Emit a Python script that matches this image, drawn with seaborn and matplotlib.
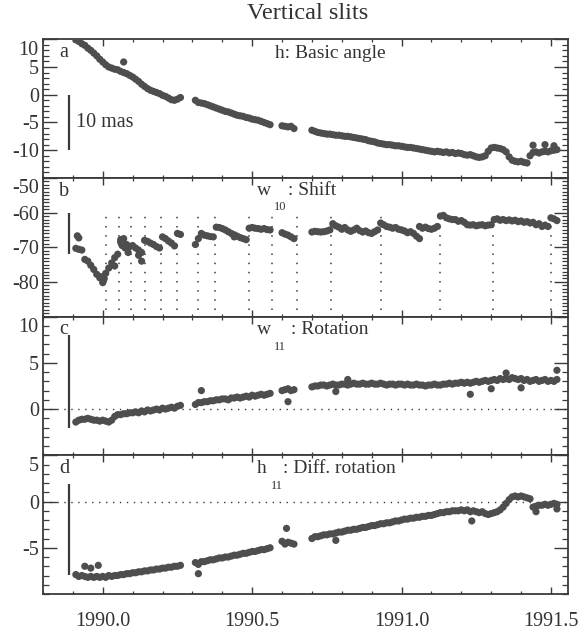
import matplotlib
matplotlib.use("Agg")
import matplotlib.pyplot as plt
import matplotlib.transforms as mtransforms
import pandas as pd
import seaborn as sns
from matplotlib.ticker import MultipleLocator, FixedLocator

# ---------------- data ----------------
epoch = [
    1989.91, 1989.92, 1989.93, 1989.94, 1989.95, 1989.96, 1989.97, 1989.98, 1989.99,
    1990.00, 1990.01, 1990.02, 1990.03, 1990.04, 1990.05, 1990.06, 1990.07, 1990.08, 1990.09,
    1990.10, 1990.11, 1990.12, 1990.13, 1990.14, 1990.15, 1990.16, 1990.17, 1990.18, 1990.19,
    1990.20, 1990.21, 1990.22, 1990.23, 1990.24, 1990.25, 1990.26,
    1990.31, 1990.32, 1990.33, 1990.34, 1990.35, 1990.36, 1990.37, 1990.38, 1990.39,
    1990.40, 1990.41, 1990.42, 1990.43, 1990.44, 1990.45, 1990.46, 1990.47, 1990.48, 1990.49,
    1990.50, 1990.51, 1990.52, 1990.53, 1990.54, 1990.55, 1990.56,
    1990.60, 1990.61, 1990.62, 1990.63, 1990.64,
    1990.70, 1990.71, 1990.72, 1990.73, 1990.74, 1990.75, 1990.76, 1990.77, 1990.78, 1990.79,
    1990.80, 1990.81, 1990.82, 1990.83, 1990.84, 1990.85, 1990.86, 1990.87, 1990.88, 1990.89,
    1990.90, 1990.91, 1990.92, 1990.93, 1990.94, 1990.95, 1990.96, 1990.97, 1990.98, 1990.99,
    1991.00, 1991.01, 1991.02, 1991.03, 1991.04, 1991.05, 1991.06, 1991.07, 1991.08, 1991.09,
    1991.10, 1991.11, 1991.12, 1991.13, 1991.14, 1991.15, 1991.16, 1991.17, 1991.18, 1991.19,
    1991.20, 1991.21, 1991.22, 1991.23, 1991.24, 1991.25, 1991.26, 1991.27, 1991.28, 1991.29,
    1991.30, 1991.31, 1991.32, 1991.33, 1991.34, 1991.35, 1991.36, 1991.37, 1991.38, 1991.39,
    1991.40, 1991.41, 1991.42, 1991.43, 1991.44, 1991.45, 1991.46, 1991.47, 1991.48, 1991.49,
    1991.50, 1991.51, 1991.52,
]

basic_angle = [
    9.9, 9.6, 9.2, 8.9, 8.4, 8.0, 7.5, 7.0, 6.4, 5.9, 5.4, 5.0, 4.8, 4.6, 4.5, 4.2, 4.0, 3.8,
    3.5, 3.2, 2.8, 2.4, 1.9, 1.5, 1.1, 0.8, 0.6, 0.4, 0.2, -0.1, -0.3, -0.6, -0.9, -1.0, -0.8, -0.5,
    -1.0, -1.4, -1.5, -1.6, -1.8, -2.0, -2.2, -2.4, -2.6, -2.8, -3.0, -3.1, -3.3, -3.5, -3.7,
    -3.8, -3.9, -4.1, -4.2, -4.4, -4.5, -4.6, -4.8, -5.0, -5.2, -5.4,
    -5.6, -5.7, -5.8, -5.7, -6.1,
    -6.4, -6.6, -6.8, -6.9, -7.0, -7.1, -7.1, -7.2, -7.3, -7.3, -7.4, -7.5, -7.5, -7.6, -7.7,
    -7.8, -7.9, -8.0, -8.1, -8.3, -8.4, -8.5, -8.7, -8.8, -8.9, -9.0, -9.0, -9.1, -9.2, -9.2,
    -9.3, -9.4, -9.5, -9.5, -9.6, -9.7, -9.8, -9.9, -10.0, -10.1, -10.2, -10.3, -10.2, -10.3,
    -10.4, -10.3, -10.5, -10.4, -10.6, -10.5,
    -10.6, -10.8, -10.9, -10.8, -11.0, -11.2, -11.3, -11.2, -11.0, -10.2, -9.6, -9.5, -9.6,
    -9.7, -9.9, -10.3, -11.2, -11.8, -12.0, -12.1, -12.0, -12.2, -12.3, -11.0, -10.4, -10.3,
    -10.5, -10.3, -10.2, -10.3, -10.1, -10.0, -9.9,
]

shift = [
    -70.3, -70.6, -70.8, -73.5, -74.0, -75.2, -76.4, -77.8, -78.8, -79.5, -77.5, -76.0, -74.5,
    -73.0, -72.0, -68.5, -68.8, -69.2, -69.8, -69.5, -70.2, -70.8, -71.5, -68.0, -68.3, -68.8,
    -69.2, -69.8, -70.2, -67.0, -67.5, -68.2, -68.8, -69.6, -66.0, -66.3,
    -69.2, -67.5, -66.0, -66.5, -66.7, -66.9, -67.0, -64.2, -64.3, -64.6, -65.0, -65.5, -66.0,
    -66.4, -66.8, -67.2, -67.5, -67.8, -64.5, -64.3, -64.5, -64.6, -64.8, -64.6, -64.9, -65.0,
    -65.8, -66.2, -66.5, -67.0, -67.5,
    -65.6, -65.4, -65.5, -65.6, -65.5, -65.3, -65.0, -63.2, -63.8, -64.2, -64.8, -64.3, -65.0,
    -65.4, -65.0, -64.5, -65.2, -65.6, -65.3, -65.8, -66.0, -65.5, -65.0, -63.0, -63.5, -64.0,
    -64.2, -64.5, -64.3, -64.8,
    -65.0, -65.3, -65.8, -65.5, -66.0, -66.8, -64.0, -64.5, -64.2, -64.6, -64.8, -64.5, -64.0,
    -61.0, -60.8, -61.5, -61.8, -62.0, -62.0, -62.5,
    -62.3, -62.8, -63.5, -63.6, -63.5, -63.8, -63.6, -63.5, -63.8, -63.6, -63.5, -62.0, -61.8,
    -62.2, -62.0, -62.3, -62.1, -62.4, -62.2, -62.6, -62.4, -62.8, -62.6, -63.0, -62.8, -63.5,
    -63.2, -64.0, -63.6, -64.0, -61.5, -61.8, -62.3,
]

rotation = [
    -1.4, -1.2, -1.1, -1.1, -1.0, -1.1, -1.2, -1.2, -1.3, -1.2, -1.3, -1.4, -1.2, -0.8, -0.6,
    -0.6, -0.5, -0.5, -0.4, -0.4, -0.3, -0.4, -0.2, -0.3, -0.1, -0.2, -0.1, 0.0, -0.1, 0.1,
    0.0, 0.1, 0.2, 0.1, 0.3, 0.4,
    0.5, 0.7, 0.7, 0.8, 0.8, 0.9, 0.9, 1.0, 1.0, 1.1, 1.1, 1.0, 1.2, 1.2, 1.3, 1.2, 1.3, 1.4,
    1.3, 1.5, 1.4, 1.5, 1.6, 1.5, 1.6, 1.7,
    2.0, 2.1, 2.2, 2.0, 2.1,
    2.4, 2.5, 2.5, 2.6, 2.6, 2.5, 2.6, 2.7, 2.6, 2.6, 2.7, 2.7, 2.6, 2.7, 2.8, 2.7, 2.7, 2.8,
    2.7, 2.7, 2.8, 2.7, 2.7, 2.8, 2.7, 2.6, 2.7, 2.7, 2.6, 2.7,
    2.7, 2.6, 2.7, 2.6, 2.6, 2.7, 2.6, 2.6, 2.5, 2.6, 2.6, 2.7, 2.6, 2.6, 2.7, 2.7, 2.8, 2.7,
    2.8, 2.8,
    2.9, 2.8, 2.9, 2.8, 2.9, 3.0, 2.9, 3.0, 3.1, 3.0, 3.1, 3.2, 3.1, 3.3, 3.2, 3.3, 3.2, 3.4,
    3.3, 3.2, 3.3, 3.1, 3.2, 3.0, 3.1, 3.2, 3.0, 3.1, 3.2, 3.0, 3.1, 3.0, 3.2,
]

diff_rotation = [
    -7.9, -8.1, -8.0, -8.1, -8.2, -8.1, -8.2, -8.1, -8.2, -8.1, -8.2, -8.0, -8.1, -8.0, -8.0,
    -7.9, -7.9, -7.8, -7.8, -7.7, -7.7, -7.6, -7.6, -7.5, -7.5, -7.4, -7.4, -7.3, -7.3, -7.2,
    -7.2, -7.1, -7.1, -7.0, -7.0, -6.9,
    -6.6, -6.8, -6.5, -6.5, -6.4, -6.3, -6.3, -6.2, -6.1, -6.1, -6.0, -6.0, -5.9, -5.8, -5.8,
    -5.7, -5.6, -5.6, -5.5, -5.4, -5.4, -5.3, -5.2, -5.2, -5.1, -5.0,
    -4.3, -4.6, -4.4, -4.5, -4.6,
    -4.0, -3.8, -3.8, -3.7, -3.6, -3.6, -3.5, -3.5, -3.4, -3.3, -3.3, -3.2, -3.1, -3.1, -3.0,
    -3.0, -2.9, -2.8, -2.8, -2.7, -2.6, -2.6, -2.5, -2.4, -2.4, -2.3, -2.3, -2.2, -2.1, -2.1,
    -2.0, -1.9, -1.9, -1.8, -1.8, -1.7, -1.7, -1.6, -1.6, -1.5, -1.5, -1.4, -1.3, -1.2, -1.2,
    -1.1, -1.1, -1.0, -1.0, -1.0,
    -0.9, -1.0, -0.9, -1.1, -1.0, -1.1, -1.2, -1.1, -1.3, -1.4, -1.3, -1.2, -1.1, -0.9, -0.6,
    -0.2, 0.2, 0.5, 0.6, 0.5, 0.6, 0.5, 0.4, 0.3, -0.6, -0.5, -0.4, -0.4, -0.3, -0.4, -0.3,
    -0.2, -0.3,
]

# isolated points
a_extra_epoch = [1990.07, 1991.44, 1991.48, 1991.51]
a_extra_value = [5.9, -9.1, -9.0, -9.2]
b_extra_epoch = [1989.915, 1989.92, 1989.995, 1990.00, 1990.005, 1990.04, 1990.06, 1990.07,
                 1990.065, 1990.075, 1990.085, 1990.12, 1990.13, 1991.06, 1990.44]
b_extra_value = [-66.7, -67.3, -78.5, -80.2, -79.0, -75.4, -67.8, -67.5,
                 -69.5, -70.2, -71.5, -72.3, -74.0, -67.5, -67.0]
c_extra_epoch = [1990.33, 1990.62, 1990.78, 1990.82, 1991.23, 1991.30, 1991.35, 1991.40, 1991.52]
c_extra_value = [2.0, 0.8, 1.9, 3.2, 1.6, 2.2, 3.9, 2.3, 4.2]
d_extra_epoch = [1989.94, 1989.96, 1989.985, 1990.32, 1990.615, 1990.78, 1991.235, 1991.45, 1991.52]
d_extra_value = [-7.0, -7.2, -6.9, -7.8, -2.9, -4.2, -2.1, -1.1, -0.8]

# calibration breaks drawn as dotted verticals in panel b
shift_breaks = [1990.01, 1990.055, 1990.093, 1990.14, 1990.195, 1990.25, 1990.32, 1990.375,
                1990.49, 1990.565, 1990.65, 1990.765, 1990.93, 1991.13, 1991.305, 1991.50]

year_ticks = [1990.0, 1990.5, 1991.0, 1991.5]
year_labels = ["1990.0", "1990.5", "1991.0", "1991.5"]

# ---------------- style ----------------
sns.set_theme(style="ticks")
plt.rcParams["font.family"] = ["Liberation Serif", "DejaVu Serif"]
plt.rcParams["axes.unicode_minus"] = False

INK = "#3a3a3a"
TXT = "#333333"
DOT = "#4e4e4e"

fig = plt.figure(figsize=(5.8, 6.33), dpi=100)
left, width, h = 0.0741, 0.9052, 0.2191
bottoms = [0.7189, 0.4998, 0.2807, 0.0616]
axes = [fig.add_axes([left, b, width, h]) for b in bottoms]

panels = [
    dict(vals=basic_angle, ex=(a_extra_epoch, a_extra_value), ylim=(-15, 10),
         yt=[10, 5, 0, -5, -10], letter="a", bar=(0, -10), zero=False),
    dict(vals=shift, ex=(b_extra_epoch, b_extra_value), ylim=(-90, -50),
         yt=[-50, -60, -70, -80], letter="b", bar=(-60, -72), zero=False),
    dict(vals=rotation, ex=(c_extra_epoch, c_extra_value), ylim=(-5, 10),
         yt=[10, 5, 0], letter="c", bar=(8, -2), zero=True),
    dict(vals=diff_rotation, ex=(d_extra_epoch, d_extra_value), ylim=(-10, 5),
         yt=[5, 0, -5], letter="d", bar=(1.9, -7.9), zero=True),
]

down = mtransforms.ScaledTranslation(0, -6 / 72, fig.dpi_scale_trans)

for i, (ax, p) in enumerate(zip(axes, panels)):
    df = pd.DataFrame({"epoch": epoch + p["ex"][0], "value": p["vals"] + p["ex"][1]})
    sns.scatterplot(data=df, x="epoch", y="value", ax=ax, s=27, color=DOT,
                    edgecolor="none", linewidth=0, legend=False, zorder=3)
    ax.set_xlim(1989.80, 1991.557)
    ax.set_ylim(*p["ylim"])
    ax.set_xlabel("")
    ax.set_ylabel("")
    ax.yaxis.set_major_locator(FixedLocator(p["yt"]))
    ax.yaxis.set_minor_locator(MultipleLocator(1))
    ax.set_yticklabels([str(v) for v in p["yt"]])
    ax.xaxis.set_major_locator(FixedLocator(year_ticks))
    ax.xaxis.set_minor_locator(MultipleLocator(0.1))
    ax.tick_params(which="both", direction="in", top=True, right=True,
                   color=INK, labelcolor=TXT, labelsize=14.5)
    ax.tick_params(axis="y", which="major", length=10, width=1.0, pad=3)
    ax.tick_params(axis="y", which="minor", length=4.5, width=0.9)
    ax.tick_params(axis="x", which="major", length=5, width=1.0, pad=13)
    ax.tick_params(axis="x", which="minor", length=2.5, width=0.9)
    if i < 3:
        ax.tick_params(axis="x", labelbottom=False)
    else:
        ax.set_xticklabels(year_labels)
    for sp in ax.spines.values():
        sp.set_color(INK)
        sp.set_linewidth(1.3)
    # top tick label sits a little below the frame, as in the reference
    top_lab = ax.get_yticklabels()[0]
    top_lab.set_transform(top_lab.get_transform() + down)
    # 10 mas scale bar
    ax.vlines(1989.887, p["bar"][1], p["bar"][0], color=INK, lw=1.6, zorder=4)
    if p["zero"]:
        ax.axhline(0, color=INK, lw=1.0, linestyle=(0, (1, 4)), zorder=2)
    ax.text(0.040, 0.905, p["letter"], transform=ax.transAxes, ha="center",
            va="center", fontsize=14.5, color=TXT)

# panel a
axes[0].text(0.442, 0.90, "h: Basic angle", transform=axes[0].transAxes,
             ha="left", va="center", fontsize=14, color=TXT)
axes[0].text(0.063, 0.403, "10 mas", transform=axes[0].transAxes,
             ha="left", va="center", fontsize=14.5, color=TXT)
# panel b
axes[1].vlines(shift_breaks, -88, -60, color=INK, lw=1.1, linestyles=(0, (1, 5)), zorder=2)
axes[1].text(0.407, 0.91, "w", transform=axes[1].transAxes, ha="left", va="center",
             fontsize=14, color=TXT)
axes[1].text(0.452, 0.79, "10", transform=axes[1].transAxes, ha="center", va="center",
             fontsize=9, color=TXT)
axes[1].text(0.466, 0.91, ": Shift", transform=axes[1].transAxes, ha="left", va="center",
             fontsize=14, color=TXT)
# panel c
axes[2].text(0.407, 0.905, "w", transform=axes[2].transAxes, ha="left", va="center",
             fontsize=14, color=TXT)
axes[2].text(0.452, 0.78, "11", transform=axes[2].transAxes, ha="center", va="center",
             fontsize=9, color=TXT)
axes[2].text(0.473, 0.905, ": Rotation", transform=axes[2].transAxes, ha="left",
             va="center", fontsize=14, color=TXT)
# panel d
axes[3].text(0.407, 0.906, "h", transform=axes[3].transAxes, ha="left", va="center",
             fontsize=14, color=TXT)
axes[3].text(0.445, 0.78, "11", transform=axes[3].transAxes, ha="center", va="center",
             fontsize=9, color=TXT)
axes[3].text(0.458, 0.906, ": Diff. rotation", transform=axes[3].transAxes, ha="left",
             va="center", fontsize=14, color=TXT)

fig.text(0.530, 0.978, "Vertical slits", ha="center", va="center", fontsize=17.5,
         color=TXT)

fig.savefig("out.png", dpi=100)
